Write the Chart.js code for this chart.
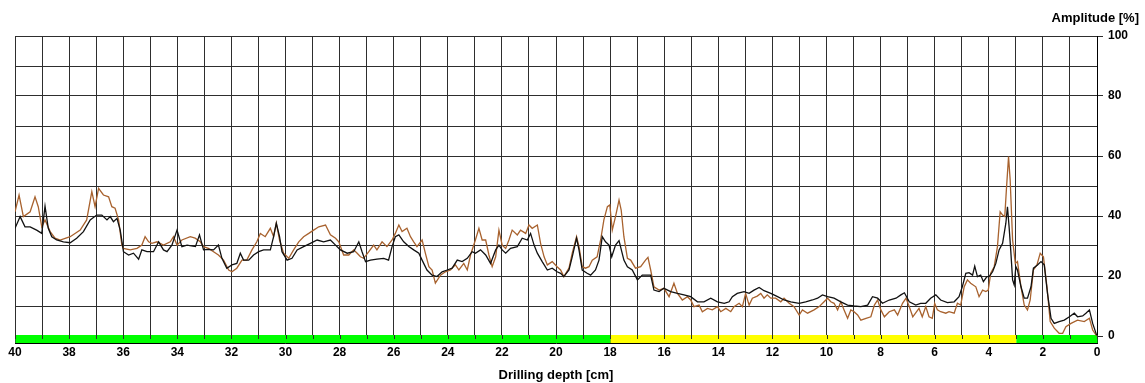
<!DOCTYPE html>
<html>
<head>
<meta charset="utf-8">
<script src="https://cdn.jsdelivr.net/npm/chart.js@4/dist/chart.umd.min.js"></script>
<style>
html,body{margin:0;padding:0;background:#fff;}
#wrap{width:1145px;height:383px;position:relative;}
</style>
</head>
<body>
<div id="wrap"><canvas id="c"></canvas></div>
<script>
// Series 1 (black): depth [cm] and amplitude [%]
const blackDepth = [40.00,39.81,39.63,39.44,39.20,39.01,38.89,38.77,38.64,38.46,38.21,37.96,37.72,37.47,37.22,36.98,36.79,36.60,36.48,36.36,36.23,36.11,35.99,35.80,35.62,35.43,35.31,35.12,34.88,34.69,34.51,34.38,34.20,34.01,33.83,33.64,33.33,33.18,33.03,32.85,32.66,32.48,32.35,32.17,31.98,31.80,31.67,31.55,31.36,31.18,30.99,30.81,30.56,30.44,30.34,30.22,30.13,29.94,29.76,29.57,29.33,29.08,28.83,28.59,28.34,28.15,27.97,27.72,27.48,27.29,27.17,27.04,26.86,26.62,26.37,26.19,26.06,25.94,25.81,25.63,25.44,25.26,25.07,24.95,24.77,24.58,24.40,24.21,24.02,23.84,23.65,23.47,23.28,23.10,22.98,22.79,22.60,22.42,22.23,22.11,21.99,21.86,21.68,21.43,21.25,21.06,20.94,20.81,20.69,20.51,20.32,20.14,19.96,19.83,19.71,19.52,19.40,19.24,19.15,19.03,18.85,18.72,18.54,18.41,18.29,18.17,18.04,17.94,17.80,17.67,17.49,17.36,17.18,16.99,16.81,16.62,16.50,16.38,16.19,16.01,15.76,15.51,15.27,15.02,14.77,14.53,14.28,14.03,13.78,13.60,13.48,13.30,13.05,12.86,12.68,12.49,12.31,12.06,11.81,11.57,11.32,11.01,10.77,10.52,10.33,10.15,9.96,9.72,9.47,9.22,8.98,8.73,8.48,8.30,8.11,7.93,7.68,7.43,7.25,7.12,6.94,6.70,6.52,6.33,6.15,5.96,5.78,5.53,5.28,5.10,4.98,4.85,4.73,4.60,4.52,4.42,4.30,4.20,4.07,3.99,3.86,3.74,3.62,3.49,3.37,3.31,3.25,3.19,3.12,3.06,3.00,2.94,2.81,2.69,2.57,2.44,2.35,2.20,2.07,1.95,1.83,1.70,1.58,1.40,1.21,1.02,0.84,0.72,0.53,0.41,0.28,0.16,0.01];
const blackAmp = [35.9,39.8,36.4,36.4,35.3,34.2,43.3,35.9,33.1,32.0,31.4,31.1,32.6,34.8,38.7,40.3,40.3,38.7,39.8,38.1,39.2,35.3,28.1,27.0,27.6,25.6,28.7,28.1,28.1,31.4,28.7,28.1,30.3,35.3,29.8,30.3,29.8,33.7,28.7,28.9,28.7,30.3,25.9,22.6,23.7,24.2,27.6,25.3,25.3,27.0,28.1,28.7,28.7,33.1,37.6,33.1,28.1,25.3,25.9,28.7,29.8,30.9,32.0,31.4,32.0,30.3,28.7,27.6,28.1,31.4,28.1,24.8,25.3,25.6,25.9,25.3,29.8,33.1,33.7,31.4,29.8,28.7,27.6,25.3,22.0,20.3,19.8,21.4,22.0,22.6,25.3,24.8,25.9,28.1,27.6,28.7,27.0,24.2,28.7,30.3,28.7,27.6,29.2,29.8,32.6,32.0,34.2,30.3,27.6,24.8,22.0,22.6,21.4,20.9,19.8,22.0,26.4,32.6,28.7,22.0,20.9,20.3,22.0,25.3,33.1,31.4,30.3,26.4,30.3,31.8,25.3,23.1,22.0,18.7,20.3,20.3,20.3,15.3,14.8,15.9,14.8,14.2,13.7,13.1,11.4,11.4,12.6,11.4,10.9,11.4,13.1,14.2,14.8,14.2,15.3,16.2,15.1,14.2,13.1,12.0,11.4,10.9,11.4,12.0,12.6,13.7,13.1,12.6,11.4,10.3,10.0,9.8,10.3,13.1,12.6,10.9,12.0,12.6,13.7,14.4,11.4,10.3,10.9,10.9,12.6,13.7,12.0,11.1,11.4,13.1,16.4,20.9,21.1,20.3,23.3,19.8,20.3,18.1,19.8,19.8,21.4,24.2,28.7,30.9,37.6,43.1,36.4,28.7,18.7,17.0,23.1,22.0,16.4,12.6,12.6,16.4,22.6,23.7,24.8,23.7,14.2,5.9,4.2,4.8,5.3,6.4,7.6,6.4,6.7,7.6,8.7,4.2,0.2];

// Series 2 (brown): depth [cm] and amplitude [%]
const brownDepth = [40.00,39.85,39.69,39.44,39.26,39.14,39.01,38.89,38.70,38.52,38.33,37.96,37.59,37.35,37.16,37.04,36.91,36.73,36.54,36.42,36.30,36.17,36.05,35.99,35.74,35.49,35.31,35.19,35.06,34.94,34.75,34.51,34.26,34.14,34.01,33.83,33.52,33.34,33.15,33.03,32.85,32.66,32.48,32.29,32.10,31.98,31.80,31.61,31.43,31.24,31.06,30.93,30.75,30.56,30.44,30.34,30.22,30.07,29.88,29.70,29.51,29.33,29.14,28.96,28.77,28.52,28.34,28.15,28.03,27.85,27.66,27.48,27.35,27.23,27.11,26.92,26.74,26.62,26.43,26.25,26.06,25.94,25.81,25.69,25.51,25.38,25.26,25.14,24.95,24.83,24.70,24.58,24.46,24.27,24.09,23.90,23.72,23.59,23.41,23.28,23.16,22.98,22.85,22.73,22.60,22.48,22.36,22.23,22.11,21.99,21.86,21.74,21.62,21.43,21.31,21.12,21.00,20.88,20.69,20.57,20.44,20.32,20.14,19.96,19.83,19.71,19.52,19.40,19.24,19.15,19.03,18.91,18.78,18.66,18.48,18.35,18.23,18.10,18.01,17.92,17.80,17.67,17.59,17.49,17.36,17.24,17.06,16.87,16.69,16.60,16.50,16.38,16.19,16.01,15.82,15.64,15.51,15.33,15.14,15.02,14.90,14.71,14.59,14.40,14.22,14.03,13.91,13.72,13.54,13.42,13.23,13.11,12.99,12.86,12.74,12.56,12.43,12.31,12.19,12.06,11.88,11.69,11.57,11.38,11.20,11.01,10.89,10.70,10.46,10.27,10.09,9.96,9.84,9.72,9.59,9.47,9.35,9.22,9.10,8.98,8.85,8.73,8.54,8.36,8.23,8.11,7.99,7.86,7.68,7.49,7.37,7.19,7.06,6.94,6.81,6.58,6.46,6.33,6.21,6.09,6.00,5.90,5.78,5.59,5.47,5.28,5.16,5.04,4.91,4.79,4.67,4.48,4.36,4.23,4.11,4.02,3.93,3.80,3.68,3.58,3.49,3.41,3.35,3.27,3.21,3.12,3.02,2.94,2.81,2.69,2.57,2.47,2.35,2.22,2.10,1.98,1.85,1.73,1.58,1.40,1.27,1.15,0.96,0.72,0.47,0.28,0.16,0.01];
const brownAmp = [41.4,47.0,39.8,41.4,46.4,43.1,36.4,38.7,34.8,32.6,32.0,33.1,35.3,38.7,48.1,43.1,49.2,47.0,46.4,43.1,42.6,38.7,30.3,29.2,28.7,29.2,30.3,33.1,31.4,30.9,31.4,30.3,31.4,33.1,30.3,32.0,33.1,32.6,31.4,29.8,29.2,28.1,27.0,25.3,22.0,21.4,22.6,25.3,25.3,28.7,31.4,34.2,33.1,35.9,33.1,37.6,32.0,27.6,25.9,28.7,31.4,33.1,34.2,35.3,36.4,37.0,33.7,32.6,31.4,27.0,27.0,28.7,27.6,26.4,25.9,28.1,30.3,28.7,31.4,29.8,32.0,34.2,37.0,34.8,35.9,33.1,31.4,29.8,32.0,27.6,23.1,22.0,17.6,20.3,21.4,22.0,23.7,22.0,24.2,22.0,27.0,32.0,35.9,32.0,32.0,27.0,23.1,26.4,35.3,30.3,29.2,32.0,35.3,33.7,35.3,34.2,37.0,35.9,37.0,30.9,26.4,23.7,24.8,23.1,22.0,19.8,22.6,27.6,33.1,29.8,23.1,22.6,23.1,25.3,26.4,32.0,38.7,43.1,43.7,35.3,39.8,45.3,42.0,33.1,25.9,25.3,22.6,23.1,25.3,26.2,22.0,16.4,15.3,15.9,13.1,17.6,14.2,12.0,13.1,12.0,9.8,10.3,8.1,9.2,8.7,9.8,8.1,9.2,8.1,9.8,10.9,9.8,14.2,10.3,12.6,13.3,14.2,12.6,13.7,12.6,12.6,11.4,12.6,10.9,9.8,7.0,8.7,7.6,8.7,9.8,11.4,12.6,11.4,10.9,8.7,11.4,8.7,5.9,8.7,8.1,7.0,5.3,5.9,6.4,10.3,12.0,8.7,6.4,8.1,8.7,7.0,10.9,12.6,9.8,6.4,9.2,6.4,9.8,6.4,5.9,10.9,8.7,8.1,7.6,8.1,7.6,10.9,10.3,16.4,18.7,17.6,16.4,13.1,15.3,14.8,15.3,20.9,23.1,29.8,41.4,40.3,39.8,48.7,59.8,52.0,32.0,24.2,24.8,16.4,10.3,8.7,12.0,22.0,23.7,27.6,26.4,16.4,4.8,2.6,0.9,0.9,3.1,4.2,5.3,4.8,5.9,2.0,0.0];

// Bottom colour band (depth ranges)
const bandFrom = [40, 18, 3];
const bandTo = [18, 3, 0];
const bandColors = ['#00ff00', '#ffff00', '#00ff00'];

// Axis ticks
const xTickValues = [40,39,38,37,36,35,34,33,32,31,30,29,28,27,26,25,24,23,22,21,20,19,18,17,16,15,14,13,12,11,10,9,8,7,6,5,4,3,2,1,0];
const yTickValues = [0,10,20,30,40,50,60,70,80,90,100];

const xTitle = 'Drilling depth [cm]';
const yTitle = 'Amplitude [%]';

const GRID = '#2e2e2e';
const FONT = 'Liberation Sans, Arial, Helvetica, sans-serif';

const toPts = (xs, ys) => xs.map((x, i) => ({x: x, y: ys[i]}));

const bandPlugin = {
  id: 'bands',
  beforeDatasetsDraw(chart) {
    const {ctx, scales: {x, y}} = chart;
    const top = Math.round(y.getPixelForValue(0)) - 1;
    const bottom = Math.round(chart.chartArea.bottom) - 1;
    ctx.save();
    for (let i = 0; i < bandFrom.length; i++) {
      const a = x.getPixelForValue(bandFrom[i]);
      const b = x.getPixelForValue(bandTo[i]);
      const l = Math.min(a, b), r = Math.max(a, b);
      ctx.fillStyle = bandColors[i];
      ctx.fillRect(l + 0.5, top, r - l, bottom - top);
    }
    // short tick stubs reaching into the band
    ctx.strokeStyle = GRID;
    ctx.lineWidth = 1;
    ctx.beginPath();
    xTickValues.forEach(v => {
      const px = Math.round(x.getPixelForValue(v)) + 0.5;
      ctx.moveTo(px, top);
      ctx.lineTo(px, top + 4);
    });
    ctx.stroke();
    ctx.restore();
  },
  afterDraw(chart) {
    const {ctx} = chart;
    ctx.save();
    ctx.font = 'bold 13px ' + FONT;
    ctx.fillStyle = '#000';
    ctx.textAlign = 'right';
    ctx.textBaseline = 'alphabetic';
    ctx.fillText(yTitle, 1139, 22);
    ctx.restore();
  }
};

new Chart(document.getElementById('c'), {
  type: 'line',
  data: {
    datasets: [
      {
        label: 'black',
        data: toPts(blackDepth, blackAmp),
        borderColor: '#111111',
        borderWidth: 1.3,
        pointRadius: 0,
        tension: 0,
        order: 1
      },
      {
        label: 'brown',
        data: toPts(brownDepth, brownAmp),
        borderColor: '#a8622e',
        borderWidth: 1.3,
        pointRadius: 0,
        tension: 0,
        order: 2
      }
    ]
  },
  plugins: [bandPlugin],
  options: {
    responsive: true,
    maintainAspectRatio: false,
    animation: false,
    devicePixelRatio: 1,
    layout: {padding: {left: 15, top: 36, right: 0, bottom: 0}},
    plugins: {
      legend: {display: false},
      tooltip: {enabled: false},
      title: {display: false}
    },
    scales: {
      x: {
        type: 'linear',
        reverse: true,
        min: 0,
        max: 40,
        afterBuildTicks(scale) {
          scale.ticks = xTickValues.map(v => ({value: v}));
        },
        afterFit(scale) { scale.height = 39.5; },
        ticks: {
          autoSkip: false,
          maxRotation: 0,
          padding: 2,
          color: '#000',
          font: {family: FONT, size: 12, weight: 'bold'},
          callback: (v) => (v % 2 === 0 ? String(v) : '')
        },
        grid: {
          color: GRID,
          lineWidth: 1,
          drawTicks: false
        },
        border: {display: true, color: '#000', width: 1},
        title: {
          display: true,
          text: xTitle,
          color: '#000',
          font: {family: FONT, size: 13, weight: 'bold'},
          padding: {top: 0, bottom: 0}
        }
      },
      y: {
        type: 'linear',
        position: 'right',
        min: -2.5,
        max: 100,
        afterBuildTicks(scale) {
          scale.ticks = yTickValues.map(v => ({value: v}));
        },
        afterFit(scale) { scale.width = 48; },
        ticks: {
          padding: 5,
          color: '#000',
          font: {family: FONT, size: 12, weight: 'bold'},
          callback: (v) => (v % 20 === 0 ? String(v) : '')
        },
        grid: {
          color: GRID,
          lineWidth: 1,
          tickLength: 6,
          tickColor: (ctx) => (ctx.tick && ctx.tick.value % 20 === 0 ? GRID : 'rgba(0,0,0,0)')
        },
        border: {display: true, color: '#000', width: 1}
      }
    }
  }
});
</script>
</body>
</html>
